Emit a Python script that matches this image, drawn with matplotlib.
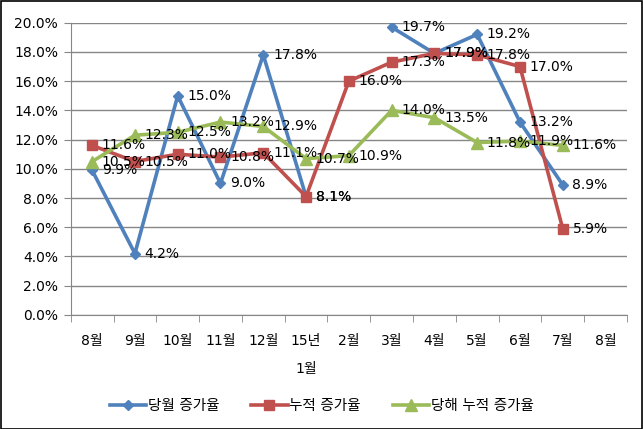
import matplotlib
matplotlib.use("Agg")
import matplotlib.pyplot as plt
import numpy as np

plt.rcParams['font.family'] = ['DejaVu Sans', 'Noto Sans CJK KR']

categories = ["8월", "9월", "10월", "11월", "12월", "15년\n1월", "2월", "3월", "4월", "5월", "6월", "7월", "8월"]
monthly = [9.9, 4.2, 15.0, 9.0, 17.8, 8.1, None, 19.7, 17.9, 19.2, 13.2, 8.9, None]
cumulative = [11.6, 10.5, 11.0, 10.8, 11.1, 8.1, 16.0, 17.3, 17.9, 17.8, 17.0, 5.9, None]
year_cum = [10.5, 12.3, 12.5, 13.2, 12.9, 10.7, 10.9, 14.0, 13.5, 11.8, 11.9, 11.6, None]
series_names = ["당월 증가율", "누적 증가율", "당해 누적 증가율"]
yticks = [0, 2, 4, 6, 8, 10, 12, 14, 16, 18, 20]

colors = ["#4F81BD", "#C0504D", "#9BBB59"]
markers = ["D", "s", "^"]
msizes = [5, 7, 8]

fig = plt.figure(figsize=(6.43, 4.29), dpi=100)
ax = fig.add_axes([0.11, 0.266, 0.865, 0.681])

x = np.arange(len(categories))
for vals, name, c, m, ms in zip([monthly, cumulative, year_cum], series_names, colors, markers, msizes):
    y = np.array([np.nan if v is None else v for v in vals], dtype=float)
    ax.plot(x, y, color=c, lw=2.6, marker=m, markersize=ms, label=name, zorder=3)
    for xi, yi in zip(x, y):
        if not np.isnan(yi):
            ax.annotate(f"{yi:.1f}%", (xi, yi), xytext=(7, 0), textcoords="offset points",
                        ha="left", va="center", fontsize=10, color="black", zorder=4)

ax.set_xlim(-0.5, len(categories) - 0.5)
ax.set_ylim(0, 20)
ax.set_yticks(yticks)
ax.set_yticklabels([f"{t:.1f}%" for t in yticks], fontsize=10)
ax.yaxis.grid(True, color="#868686", lw=1)
ax.set_axisbelow(True)

ax.set_xticks(x)
ax.set_xticklabels(categories, fontsize=10, linespacing=2.2)
ax.set_xticks(np.arange(-0.5, len(categories), 1), minor=True)
ax.tick_params(axis="x", which="major", length=0, pad=14)
ax.tick_params(axis="x", which="minor", length=5, color="#868686", direction="out")
ax.tick_params(axis="y", length=5, color="#868686", direction="out", pad=4)

for s in ["top", "right"]:
    ax.spines[s].set_visible(False)
for s in ["left", "bottom"]:
    ax.spines[s].set_color("#868686")

leg = fig.legend(loc="center", bbox_to_anchor=(0.5, 0.055), ncol=3, frameon=False,
                 fontsize=10.5, handlelength=2.5, handletextpad=0.1, columnspacing=2.2)

fig.patches.append(plt.Rectangle((0.001, 0.001), 0.997, 0.997, transform=fig.transFigure,
                                 fill=False, edgecolor="black", lw=1.2))

fig.savefig("out.png", dpi=100)
